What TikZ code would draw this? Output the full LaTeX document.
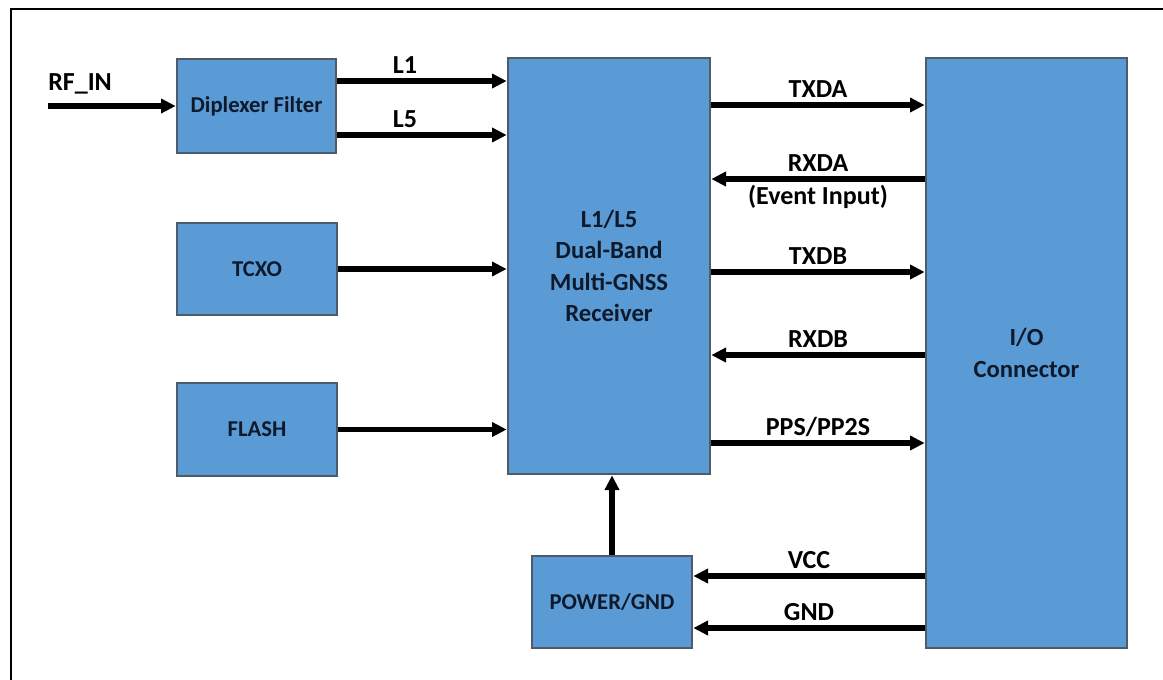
\documentclass[tikz,border=0pt]{standalone}
\usepackage{fontspec}
\setmainfont{Carlito}
\usetikzlibrary{arrows.meta}
\definecolor{boxfill}{HTML}{5B9BD5}
\definecolor{boxline}{HTML}{4E5B68}
\definecolor{boxtext}{HTML}{0E1A2B}

\begin{document}
\begin{tikzpicture}[x=0.75pt, y=-0.75pt,
  blk/.style={draw=boxline, line width=2pt, fill=boxfill, text=boxtext,
    align=center, inner sep=0pt, font=\fontsize{17}{23}\selectfont\bfseries},
  bigblk/.style={blk, font=\fontsize{18.5}{23.5}\selectfont\bfseries},
  sig/.style={line width=4pt, -{Triangle[length=11pt,width=10.5pt]}},
  lab/.style={anchor=base, inner sep=0pt, font=\fontsize{19.5}{23}\selectfont\bfseries}]
\useasboundingbox (0,0) rectangle (1163,679);
\draw[line width=1.6pt] (11,9) rectangle (1190,700);
% ---- blocks ----
\node[blk, minimum width=119.25pt, minimum height=70.5pt] (dip) at (256.5,106) {Diplexer Filter};
\node[blk, minimum width=120pt, minimum height=69pt] (tcxo) at (257,269) {TCXO};
\node[blk, minimum width=120pt, minimum height=69.75pt] (flash) at (257,429.5) {FLASH};
\node[bigblk, minimum width=151.5pt, minimum height=312pt] (rx) at (609,266)
  {L1/L5\\Dual-Band\\Multi-GNSS\\Receiver};
\node[bigblk, minimum width=150.75pt, minimum height=442.5pt] (io) at (1026.5,353) {I/O\\Connector};
\node[blk, minimum width=120pt, minimum height=69pt] (pwr) at (612,602) {POWER/GND};
% ---- antenna side ----
\coordinate (rfin) at (48,106);
\node[lab, anchor=base west] (rflab) at ([yshift=12pt]rfin) {RF\_IN};
\draw[sig] (rfin) -- (dip.west |- rfin);
\draw[sig] (dip.east |- 0,81) -- (rx.west |- 0,81) node[lab, pos=.4, yshift=6pt] {L1};
\draw[sig] (dip.east |- 0,135) -- (rx.west |- 0,135) node[lab, pos=.4, yshift=6pt] {L5};
\draw[sig] (tcxo.east) -- (rx.west |- tcxo.east);
\draw[sig] (flash.east) -- (rx.west |- flash.east);
% ---- serial lines to the connector ----
\draw[sig] (rx.east |- 0,105) -- (io.west |- 0,105) node[lab, midway, yshift=6pt] {TXDA};
\draw[sig] (io.west |- 0,179) -- (rx.east |- 0,179) node[lab, midway, yshift=6pt] {RXDA}
  node[lab, midway, yshift=-19pt] {(Event Input)};
\draw[sig] (rx.east |- 0,272) -- (io.west |- 0,272) node[lab, midway, yshift=6pt] {TXDB};
\draw[sig] (io.west |- 0,355) -- (rx.east |- 0,355) node[lab, midway, yshift=6pt] {RXDB};
\draw[sig] (rx.east |- 0,443) -- (io.west |- 0,443) node[lab, midway, yshift=6pt] {PPS/PP2S};
% ---- supply ----
\draw[sig] (pwr.north) -- (pwr.north |- rx.south);
\draw[sig] (io.west |- 0,576) -- (pwr.east |- 0,576) node[lab, midway, yshift=6pt] {VCC};
\draw[sig] (io.west |- 0,628) -- (pwr.east |- 0,628) node[lab, midway, yshift=6pt] {GND};
\end{tikzpicture}
\end{document}
